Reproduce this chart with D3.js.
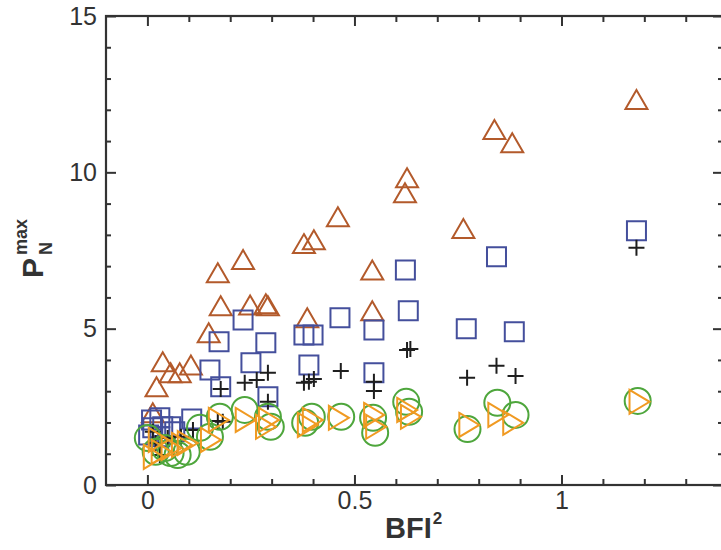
<!DOCTYPE html>
<html>
<head>
<meta charset="utf-8">
<script src="https://cdn.jsdelivr.net/npm/d3@7/dist/d3.min.js"></script>
<style>
  html, body { margin: 0; padding: 0; background: #fff; overflow: hidden; }
  svg { display: block; }
  text { font-family: "Liberation Sans", Arial, Helvetica, sans-serif; fill: #333; }
</style>
</head>
<body>
<svg id="chart" width="721" height="550"></svg>
<script>
// Peak normalised pressure P_N^max against BFI^2, five data groups.
// Each entry is [BFI^2, P_N^max].
const triangleUp = [
  [1.181, 12.33], [0.838, 11.37], [0.881, 10.95], [0.627, 9.83], [0.622, 9.35],
  [0.460, 8.58], [0.763, 8.20], [0.378, 7.72], [0.402, 7.84], [0.231, 7.21],
  [0.170, 6.79], [0.543, 6.88], [0.177, 5.73], [0.248, 5.76], [0.286, 5.80],
  [0.291, 5.73], [0.543, 5.57], [0.386, 5.35], [0.148, 4.87], [0.037, 3.94],
  [0.105, 3.84], [0.056, 3.59], [0.078, 3.59], [0.022, 3.14], [0.013, 2.31]
];
const squares = [
  [1.181, 8.13], [0.843, 7.30], [0.623, 6.88], [0.630, 5.57], [0.465, 5.35],
  [0.547, 4.96], [0.770, 5.00], [0.886, 4.90], [0.231, 5.28], [0.173, 4.58],
  [0.286, 4.55], [0.378, 4.80], [0.400, 4.80], [0.151, 3.68], [0.250, 3.91],
  [0.177, 3.14], [0.291, 2.82], [0.390, 3.84], [0.547, 3.59], [0.107, 2.11],
  [0.030, 2.15], [0.010, 2.08], [0.013, 1.83], [0.037, 1.86], [0.056, 1.86],
  [0.066, 1.70], [0.003, 1.60], [0.030, 1.54]
];
const pluses = [
  [1.181, 7.59], [0.627, 4.32], [0.635, 4.35], [0.467, 3.65], [0.547, 3.30],
  [0.547, 3.01], [0.772, 3.43], [0.843, 3.81], [0.889, 3.49], [0.235, 3.27],
  [0.264, 3.36], [0.291, 3.59], [0.378, 3.27], [0.390, 3.30], [0.402, 3.39],
  [0.177, 3.07], [0.291, 2.66], [0.170, 2.05], [0.182, 2.02], [0.110, 1.76],
  [0.081, 1.54], [0.049, 1.50], [0.020, 1.34], [0.030, 0.96], [0.013, 1.70]
];
const circles = [
  [1.184, 2.69], [0.468, 2.18], [0.545, 2.15], [0.550, 1.67], [0.625, 2.66],
  [0.632, 2.34], [0.773, 1.79], [0.845, 2.63], [0.889, 2.24], [0.175, 2.18],
  [0.235, 2.40], [0.291, 2.18], [0.298, 1.86], [0.381, 1.99], [0.397, 2.18],
  [0.151, 1.54], [0.095, 1.06], [0.127, 1.83], [0.001, 1.50], [0.020, 1.06],
  [0.042, 1.18], [0.056, 1.02], [0.073, 0.96]
];
const triangleRight = [
  [1.186, 2.66], [0.460, 2.15], [0.545, 2.24], [0.550, 1.86], [0.625, 2.40],
  [0.634, 2.18], [0.775, 1.92], [0.845, 2.24], [0.881, 1.99], [0.170, 2.08],
  [0.235, 2.08], [0.291, 2.08], [0.284, 1.86], [0.385, 1.92], [0.397, 2.08],
  [0.151, 1.44], [0.095, 1.34], [0.013, 0.90], [0.032, 1.06], [0.056, 1.18],
  [0.081, 1.28], [0.025, 1.44]
];

const xMajorTicks = [0, 0.5, 1];
const xMinorTicks = [0.1, 0.2, 0.3, 0.4, 0.6, 0.7, 0.8, 0.9, 1.1, 1.2, 1.3];
const yMajorTicks = [0, 5, 10, 15];
const yMinorTicks = [1, 2, 3, 4, 6, 7, 8, 9, 11, 12, 13, 14];
const xTickLabels = ["0", "0.5", "1"];

const plotLeft = 106, plotRight = 723, plotTop = 16, plotBottom = 485;
const x = d3.scaleLinear().domain([-0.1, 1.39]).range([plotLeft, plotRight]);
const y = d3.scaleLinear().domain([0, 15]).range([plotBottom, plotTop]);

const svg = d3.select("#chart");
const axisColor = "#333";

function styleAxis(g) {
  g.select(".domain").remove();
  g.selectAll(".tick line").attr("stroke", axisColor).attr("stroke-width", 2);
  g.selectAll(".tick text").style("font-size", "25px").attr("fill", axisColor);
}

// bottom axis: labelled majors + minors, ticks pointing inward
svg.append("g").attr("transform", `translate(0,${plotBottom})`)
  .call(d3.axisBottom(x).tickValues(xMajorTicks)
    .tickFormat((d, i) => xTickLabels[i]).tickSizeInner(-10).tickSizeOuter(0).tickPadding(6))
  .call(styleAxis);
svg.append("g").attr("transform", `translate(0,${plotBottom})`)
  .call(d3.axisBottom(x).tickValues(xMinorTicks).tickFormat("").tickSizeInner(-6).tickSizeOuter(0))
  .call(styleAxis);
// top axis: ticks only
svg.append("g").attr("transform", `translate(0,${plotTop})`)
  .call(d3.axisTop(x).tickValues(xMajorTicks).tickFormat("").tickSizeInner(-10).tickSizeOuter(0))
  .call(styleAxis);
svg.append("g").attr("transform", `translate(0,${plotTop})`)
  .call(d3.axisTop(x).tickValues(xMinorTicks).tickFormat("").tickSizeInner(-6).tickSizeOuter(0))
  .call(styleAxis);
// left axis
svg.append("g").attr("transform", `translate(${plotLeft},0)`)
  .call(d3.axisLeft(y).tickValues(yMajorTicks).tickFormat(d3.format("d"))
    .tickSizeInner(-10).tickSizeOuter(0).tickPadding(9))
  .call(styleAxis);
svg.append("g").attr("transform", `translate(${plotLeft},0)`)
  .call(d3.axisLeft(y).tickValues(yMinorTicks).tickFormat("").tickSizeInner(-5).tickSizeOuter(0))
  .call(styleAxis);
// right axis
svg.append("g").attr("transform", `translate(${plotRight},0)`)
  .call(d3.axisRight(y).tickValues(yMajorTicks).tickFormat("").tickSizeInner(-10).tickSizeOuter(0))
  .call(styleAxis);
svg.append("g").attr("transform", `translate(${plotRight},0)`)
  .call(d3.axisRight(y).tickValues(yMinorTicks).tickFormat("").tickSizeInner(-5).tickSizeOuter(0))
  .call(styleAxis);

// plot frame
svg.append("rect")
  .attr("x", plotLeft).attr("y", plotTop)
  .attr("width", plotRight - plotLeft).attr("height", plotBottom - plotTop)
  .attr("fill", "none").attr("stroke", axisColor).attr("stroke-width", 2.2);

// marker shapes, centred on the data point
const shapes = {
  up: "M0,-9.5L11,9.5L-11,9.5Z",
  square: "M-9.5,-9.5H9.5V9.5H-9.5Z",
  plus: "M-8,0H8M0,-8V8",
  circle: "M13,0A13,13 0 1,1 -13,0A13,13 0 1,1 13,0Z",
  right: "M-9,-12L11,0L-9,12Z"
};

const groups = [
  { data: triangleUp, shape: "up", color: "#b35a2b" },
  { data: squares, shape: "square", color: "#444f9c" },
  { data: pluses, shape: "plus", color: "#1e1e1e" },
  { data: circles, shape: "circle", color: "#4ea63c" },
  { data: triangleRight, shape: "right", color: "#f09a22" }
];

groups.forEach(gr => {
  svg.append("g").selectAll("path")
    .data(gr.data)
    .join("path")
    .attr("d", shapes[gr.shape])
    .attr("transform", d => `translate(${x(d[0])},${y(d[1])})`)
    .attr("fill", "none")
    .attr("stroke", gr.color)
    .attr("stroke-width", 2);
});

// x-axis title: BFI²
const xt = svg.append("text")
  .attr("x", 385).attr("y", 538)
  .style("font-size", "29px").style("font-weight", "bold");
xt.append("tspan").text("BFI");
xt.append("tspan").attr("dy", -14).attr("dx", 1).style("font-size", "17px").text("2");

// y-axis title: P with superscript max and subscript N
const yt = svg.append("g").attr("transform", "translate(43,278) rotate(-90)");
yt.append("text").attr("x", 0).attr("y", 0)
  .style("font-size", "30px").style("font-weight", "bold").text("P");
yt.append("text").attr("x", 23).attr("y", -16)
  .style("font-size", "18px").style("font-weight", "bold").text("max");
yt.append("text").attr("x", 23).attr("y", 9)
  .style("font-size", "18px").style("font-weight", "bold").text("N");
</script>
</body>
</html>
